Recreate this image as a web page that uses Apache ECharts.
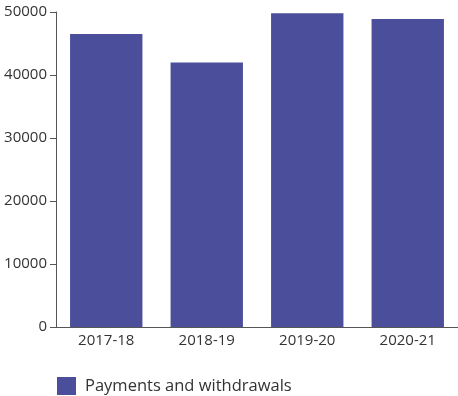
<!DOCTYPE html>
<html><head><meta charset="utf-8">
<script src="https://cdn.jsdelivr.net/npm/echarts@6/dist/echarts.min.js"></script>
<style>html,body{margin:0;padding:0;background:#fff}#c{width:458px;height:396px}</style>
</head><body><div id="c"></div>
<script>
const categories = ['2017-18', '2018-19', '2019-20', '2020-21'];
const payments = [46500, 42000, 49800, 48900];
const seriesName = 'Payments and withdrawals';

const chart = echarts.init(document.getElementById('c'));
chart.setOption({
  animation: false,
  textStyle: { fontFamily: 'Open Sans' },
  grid: { left: 56, top: 12, width: 404, height: 315 },
  legend: {
    left: 52, top: 372, itemWidth: 19, itemHeight: 18, itemGap: 10,
    icon: 'rect',
    textStyle: { fontSize: 16.5, color: '#333', fontFamily: 'Open Sans', padding: [0, 0, 0, 4] },
    data: [seriesName]
  },
  xAxis: {
    type: 'category', data: categories,
    axisLine: { lineStyle: { color: '#555', width: 1 } },
    axisTick: { inside: true, length: 5, lineStyle: { color: '#555' } },
    axisLabel: { color: '#333', fontSize: 15, margin: 6 }
  },
  yAxis: {
    type: 'value', min: 0, max: 50000, interval: 10000,
    splitLine: { show: false },
    axisLine: { show: true, lineStyle: { color: '#555', width: 1 } },
    axisTick: { show: true, length: 6, lineStyle: { color: '#555' } },
    axisLabel: { color: '#333', fontSize: 15, margin: 9, formatter: v => String(v) }
  },
  series: [{
    name: seriesName, type: 'bar', data: payments,
    barWidth: '72%',
    itemStyle: { color: '#4a4e9b' }
  }]
});
</script></body></html>
